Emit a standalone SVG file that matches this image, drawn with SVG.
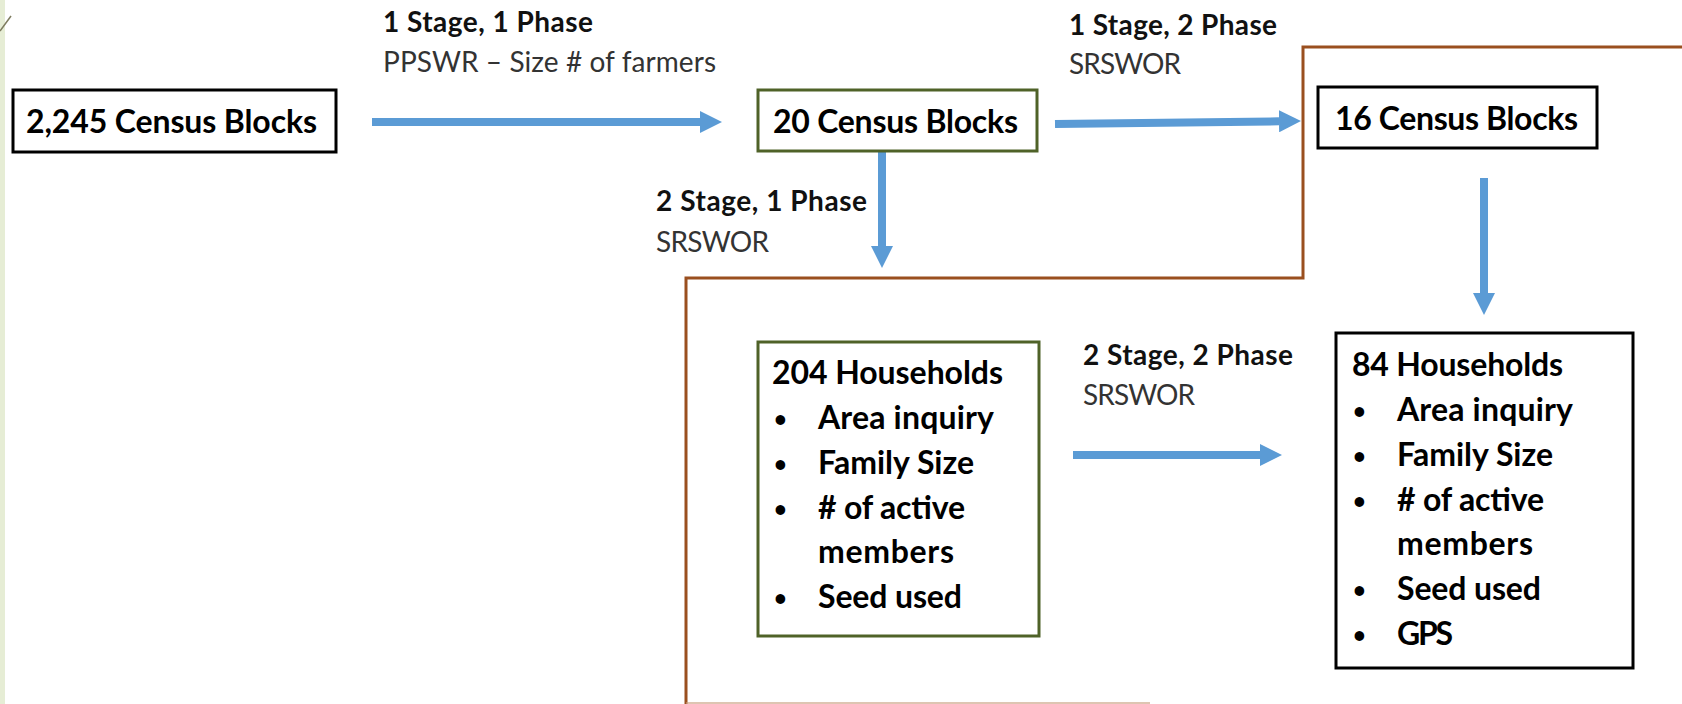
<svg xmlns="http://www.w3.org/2000/svg" width="1682" height="704" viewBox="0 0 1682 704">
  <style>
    .box-black { fill: #ffffff; stroke: #000000; stroke-width: 3; }
    .box-green { fill: #ffffff; stroke: #4f6228; stroke-width: 3; }
    .node-text { font-family: "Lato", "Open Sans", "Liberation Sans", sans-serif; font-weight: 700; font-size: 32px; fill: #000000; }
    .bullet { font-family: "Lato", "Open Sans", "Liberation Sans", sans-serif; font-weight: 700; font-size: 22px; fill: #000000; }
    .lbl-bold { font-family: "Lato", "Open Sans", "Liberation Sans", sans-serif; font-weight: 700; font-size: 28px; fill: #111111; }
    .lbl-reg { font-family: "Lato", "Open Sans", "Liberation Sans", sans-serif; font-weight: 400; font-size: 28px; fill: #333333; }
    .conn { stroke: #5b9bd5; stroke-width: 8; fill: none; marker-end: url(#head); }
    .region { fill: none; stroke: #9a4f1f; stroke-width: 3; }
  </style>
  <defs>
    <marker id="head" markerUnits="userSpaceOnUse" viewBox="0 0 22 22" refX="0" refY="11" markerWidth="22" markerHeight="22" orient="auto">
      <path d="M0,0 L22,11 L0,22 Z" fill="#5b9bd5"/>
    </marker>
  </defs>

  <!-- page background and slide edge -->
  <rect x="0" y="0" width="1682" height="704" fill="#ffffff"/>
  <rect x="0" y="0" width="5" height="704" fill="#e6edd5"/>
  <line x1="0" y1="31" x2="11" y2="16" stroke="#7d7b5e" stroke-width="1.5"/>

  <!-- stepped second-phase region -->
  <g id="phase-region">
    <polyline class="region" points="686,710 686,278 1303,278 1303,47 1690,47"/>
    <line x1="686" y1="703" x2="1150" y2="703" stroke="#c9a080" stroke-width="2" opacity="0.6"/>
  </g>

  <!-- connectors -->
  <g id="connectors">
    <line class="conn" x1="372" y1="122" x2="700" y2="122"/>
    <line class="conn" x1="1055" y1="124" x2="1279" y2="121.3"/>
    <line class="conn" x1="882" y1="152" x2="882" y2="246"/>
    <line class="conn" x1="1484" y1="178" x2="1484" y2="293"/>
    <line class="conn" x1="1073" y1="455" x2="1260" y2="455"/>
  </g>

  <!-- connector labels -->
  <g id="label-1s1p">
    <text class="lbl-bold" x="383" y="32" textLength="210">1 Stage, 1 Phase</text>
    <text class="lbl-reg" x="383" y="72" textLength="333">PPSWR – Size # of farmers</text>
  </g>
  <g id="label-1s2p">
    <text class="lbl-bold" x="1069" y="35" textLength="208">1 Stage, 2 Phase</text>
    <text class="lbl-reg" x="1069" y="74" textLength="112">SRSWOR</text>
  </g>
  <g id="label-2s1p">
    <text class="lbl-bold" x="656" y="211" textLength="211">2 Stage, 1 Phase</text>
    <text class="lbl-reg" x="656" y="252" textLength="113">SRSWOR</text>
  </g>
  <g id="label-2s2p">
    <text class="lbl-bold" x="1083" y="365" textLength="210">2 Stage, 2 Phase</text>
    <text class="lbl-reg" x="1083" y="405" textLength="112">SRSWOR</text>
  </g>

  <!-- nodes -->
  <g id="node-2245-blocks">
    <rect class="box-black" x="13" y="90" width="323" height="62"/>
    <text class="node-text" x="26" y="133" textLength="291">2,245 Census Blocks</text>
  </g>
  <g id="node-20-blocks">
    <rect class="box-green" x="758" y="90" width="279" height="61"/>
    <text class="node-text" x="773" y="133" textLength="245">20 Census Blocks</text>
  </g>
  <g id="node-16-blocks">
    <rect class="box-black" x="1318" y="87" width="279" height="61"/>
    <text class="node-text" x="1335" y="130" textLength="243">16 Census Blocks</text>
  </g>
  <g id="node-204-households">
    <rect class="box-green" x="758" y="342" width="281" height="294"/>
    <text class="node-text" x="772" y="384" textLength="231">204 Households</text>
    <text class="bullet" x="774" y="427">•</text>
    <text class="node-text" x="818" y="429" textLength="176">Area inquiry</text>
    <text class="bullet" x="774" y="472">•</text>
    <text class="node-text" x="818" y="474" textLength="156">Family Size</text>
    <text class="bullet" x="774" y="517">•</text>
    <text class="node-text" x="818" y="519" textLength="147"># of active</text>
    <text class="node-text" x="818" y="563" textLength="136">members</text>
    <text class="bullet" x="774" y="606">•</text>
    <text class="node-text" x="818" y="608" textLength="144">Seed used</text>
  </g>
  <g id="node-84-households">
    <rect class="box-black" x="1336" y="333" width="297" height="335"/>
    <text class="node-text" x="1352" y="376" textLength="211">84 Households</text>
    <text class="bullet" x="1353" y="419">•</text>
    <text class="node-text" x="1397" y="421" textLength="176">Area inquiry</text>
    <text class="bullet" x="1353" y="464">•</text>
    <text class="node-text" x="1397" y="466" textLength="156">Family Size</text>
    <text class="bullet" x="1353" y="509">•</text>
    <text class="node-text" x="1397" y="511" textLength="147"># of active</text>
    <text class="node-text" x="1397" y="555" textLength="136">members</text>
    <text class="bullet" x="1353" y="598">•</text>
    <text class="node-text" x="1397" y="600" textLength="144">Seed used</text>
    <text class="bullet" x="1353" y="643">•</text>
    <text class="node-text" x="1397" y="645" textLength="56">GPS</text>
  </g>
</svg>
